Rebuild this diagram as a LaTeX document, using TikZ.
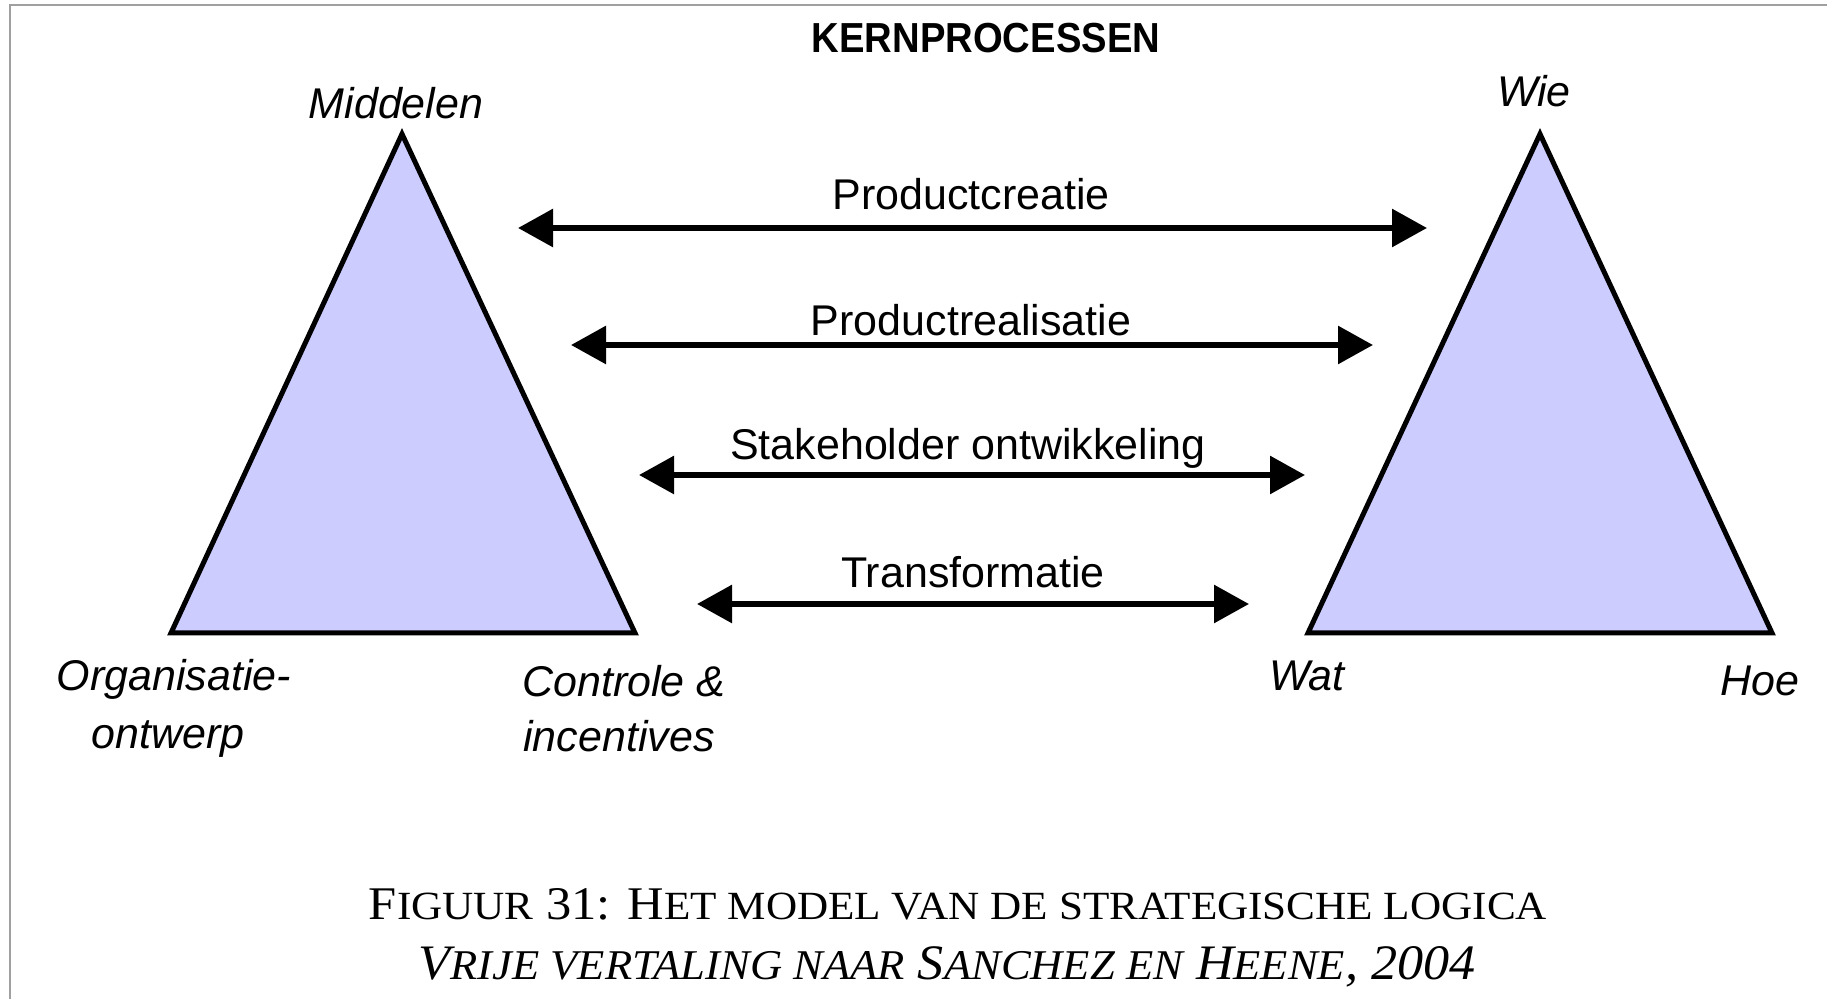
\documentclass[tikz,border=0pt]{standalone}
\usepackage{fontspec}
\setmainfont{Liberation Serif}
\newfontfamily\labelfont{Liberation Sans}
\usetikzlibrary{arrows.meta}
\definecolor{trifill}{HTML}{CCCCFF}
\definecolor{framegray}{HTML}{A0A0A0}
% reduced capitals for the caption
\newcommand{\smc}[1]{{\fontsize{20.5}{24}\selectfont #1}}
\begin{document}
\begin{tikzpicture}[x=0.5pt,y=-0.5pt,
  lbl/.style={font=\labelfont\fontsize{21.5}{25}\selectfont\itshape,inner sep=0pt},
  proc/.style={font=\labelfont\fontsize{21.5}{25}\selectfont,inner sep=0pt,anchor=base},
  arr/.style={line width=3pt,{Triangle[length=17.5pt,width=18.5pt]}-{Triangle[length=17.5pt,width=18.5pt]}},
  tri/.style={draw=black,fill=trifill,line width=2.5pt}]
\useasboundingbox (0,0) rectangle (1827,999);
% frame: top and left rules only
\draw[framegray,line width=1.2pt] (1827,5) -- (10,5) -- (10,999);

% title
\node[inner sep=0pt,anchor=base] (title) at (986,53)
  {\scalebox{0.91}[1]{\labelfont\bfseries\fontsize{21}{25}\selectfont KERNPROCESSEN}};

% left triangle
\coordinate (LA) at (402,134);
\coordinate (LB) at (171,633);
\coordinate (LC) at (635,633);
\draw[tri] (LA) -- (LB) -- (LC) -- cycle;
% right triangle
\coordinate (RA) at (1540,134);
\coordinate (RB) at (1308,633);
\coordinate (RC) at (1772,633);
\draw[tri] (RA) -- (RB) -- (RC) -- cycle;

% corner labels
\node[lbl,anchor=base] (middelen) at (396,119) {Middelen};
\node[lbl,anchor=base] (org1) at (174,691) {Organisatie-};
\node[lbl,anchor=base] (org2) at (168,748) {ontwerp};
\node[lbl,anchor=base west] (ctrl1) at (522,697) {Controle \&};
\node[lbl,anchor=base west] (ctrl2) at (523,752) {incentives};
\node[lbl,anchor=base] (wie) at (1534,107) {Wie};
\node[lbl,anchor=base] (wat) at (1307,691) {Wat};
\node[lbl,anchor=base] (hoe) at (1760,696) {Hoe};

% core processes
\coordinate (p1l) at (518,228);  \coordinate (p1r) at (1427,228);
\coordinate (p2l) at (571,345);  \coordinate (p2r) at (1373,345);
\coordinate (p3l) at (639,475);  \coordinate (p3r) at (1305,475);
\coordinate (p4l) at (697,604);  \coordinate (p4r) at (1249,604);
\draw[arr] (p1l) -- (p1r);
\draw[arr] (p2l) -- (p2r);
\draw[arr] (p3l) -- (p3r);
\draw[arr] (p4l) -- (p4r);
\node[proc] (creatie) at (971,210) {Productcreatie};
\node[proc] (realisatie) at (971,336) {Productrealisatie};
\node[proc] (stakeholder) at (968,460) {Stakeholder ontwikkeling};
\node[proc] (transformatie) at (973,588) {Transformatie};

% caption
\node[inner sep=0pt,anchor=base] (cap1) at (958,919)
  {\resizebox{589pt}{15.5pt}{\fontsize{24}{28}\selectfont F\smc{IGUUR} 31: H\smc{ET MODEL VAN DE STRATEGISCHE LOGICA}}};
\node[inner sep=0pt,anchor=base] (cap2) at (947,979)
  {\resizebox{528.5pt}{16.5pt}{\fontsize{24}{28}\selectfont\itshape V\smc{RIJE VERTALING NAAR} S\smc{ANCHEZ EN} H\smc{EENE}, 2004}};
\end{tikzpicture}
\end{document}
